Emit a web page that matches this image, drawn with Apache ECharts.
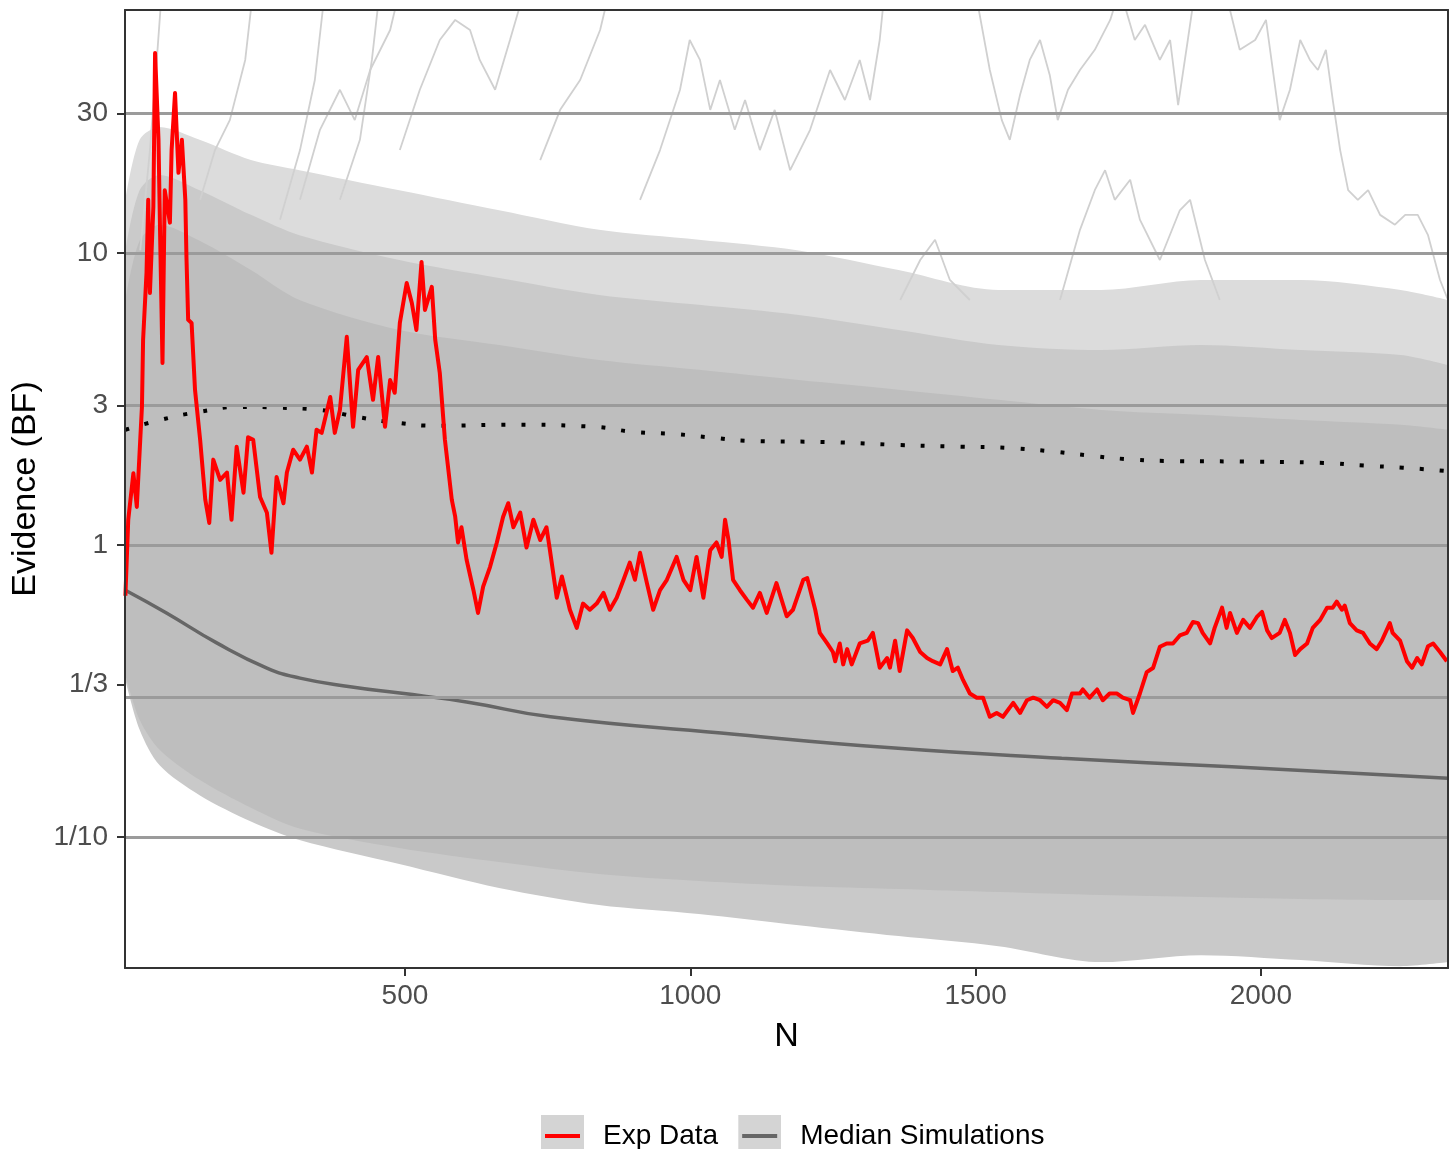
<!DOCTYPE html>
<html>
<head>
<meta charset="utf-8">
<script src="https://cdn.jsdelivr.net/npm/echarts@6/dist/echarts.min.js"></script>
<style>
html,body{margin:0;padding:0;background:#fff;}
#chart{width:1455px;height:1149px;}
</style>
</head>
<body>
<div id="chart"></div>
<script>
// ---------- data ----------
const X_MIN = 9.3, X_MAX = 2328;
const Y_MIN = 0.0356, Y_MAX = 67.9;
const xTickValues = [500, 1000, 1500, 2000];
const yTickValues = [0.1, 1/3, 1, 3, 10, 30];
const yTickLabels = ['1/10', '1/3', '1', '3', '10', '30'];
const gridValues = [0.1, 0.3, 1, 3, 10, 30];

// experimental data (N, BF)
const expData = [
[10,0.67],[15,1.22],[24,1.76],[30,1.35],[36,2.29],[39,2.97],[41,5.04],[47,8.54],[50,15.2],[53,7.29],
[59,14.4],[62,48.4],[68,24.4],[71,11.1],[75,4.20],[79,16.4],[88,12.7],[91,22.5],[97,35.3],[103,18.8],
[109,24.4],[115,15.2],[117,9.69],[120,5.90],[126,5.76],[132,3.40],[141,2.29],[150,1.43],[157,1.19],[164,1.96],
[176,1.67],[188,1.77],[196,1.22],[205,2.17],[217,1.51],[225,2.34],[234,2.29],[246,1.46],[258,1.29],[266,0.94],
[275,1.71],[287,1.39],[293,1.77],[304,2.12],[316,1.96],[328,2.17],[337,1.77],[345,2.48],[354,2.42],[369,3.21],
[377,2.42],[386,2.90],[398,5.16],[409,2.54],[418,3.98],[433,4.40],[444,3.14],[453,4.40],[465,2.54],[474,3.67],
[482,3.32],[491,5.76],[503,7.89],[512,6.74],[520,5.45],[529,9.31],[535,6.38],[547,7.65],[553,5.04],[561,3.88],
[570,2.29],[582,1.43],[588,1.25],[593,1.02],[599,1.15],[608,0.89],[620,0.70],[628,0.585],[637,0.72],[649,0.84],
[661,1.02],[672,1.25],[681,1.39],[690,1.15],[702,1.29],[713,0.98],[725,1.22],[737,1.04],[748,1.15],[754,0.96],
[766,0.66],[775,0.78],[789,0.60],[801,0.52],[812,0.63],[824,0.60],[836,0.63],[848,0.685],[859,0.60],[871,0.66],
[883,0.76],[894,0.87],[903,0.76],[912,0.94],[924,0.74],[935,0.60],[947,0.70],[959,0.76],[976,0.91],[988,0.76],
[1000,0.70],[1011,0.91],[1023,0.66],[1035,0.96],[1046,1.02],[1055,0.91],[1061,1.22],[1067,1.04],[1075,0.76],[1087,0.70],
[1099,0.65],[1110,0.61],[1122,0.685],[1134,0.585],[1151,0.74],[1169,0.57],[1180,0.60],[1198,0.76],[1205,0.77],[1219,0.60],
[1227,0.50],[1240,0.46],[1250,0.43],[1254,0.40],[1262,0.46],[1268,0.39],[1275,0.44],[1283,0.39],[1297,0.46],[1311,0.47],
[1320,0.50],[1332,0.38],[1345,0.41],[1350,0.38],[1359,0.47],[1367,0.37],[1380,0.51],[1390,0.48],[1403,0.43],[1415,0.41],
[1425,0.40],[1438,0.39],[1450,0.44],[1460,0.37],[1469,0.38],[1478,0.345],[1490,0.31],[1502,0.30],[1513,0.30],[1525,0.258],
[1537,0.266],[1548,0.258],[1566,0.288],[1578,0.266],[1590,0.294],[1601,0.30],[1613,0.294],[1625,0.279],[1636,0.294],[1648,0.288],
[1660,0.272],[1669,0.31],[1683,0.31],[1688,0.32],[1700,0.30],[1713,0.32],[1723,0.294],[1735,0.31],[1748,0.31],[1758,0.30],
[1771,0.294],[1776,0.266],[1788,0.31],[1800,0.367],[1811,0.379],[1823,0.448],[1835,0.46],[1846,0.46],[1858,0.49],[1870,0.50],
[1881,0.545],[1890,0.54],[1898,0.50],[1911,0.46],[1919,0.52],[1932,0.61],[1940,0.52],[1946,0.585],[1958,0.50],[1969,0.554],
[1981,0.52],[1993,0.567],[2002,0.59],[2011,0.51],[2019,0.48],[2033,0.50],[2042,0.554],[2051,0.50],[2060,0.42],[2069,0.44],
[2081,0.46],[2091,0.52],[2104,0.554],[2116,0.61],[2126,0.61],[2133,0.64],[2142,0.60],[2147,0.62],[2156,0.54],[2168,0.51],
[2179,0.50],[2191,0.46],[2203,0.44],[2212,0.47],[2226,0.54],[2231,0.50],[2244,0.47],[2256,0.40],[2265,0.38],[2274,0.41],
[2282,0.39],[2293,0.45],[2302,0.46],[2314,0.43],[2326,0.40]
];

// median of simulations
const medianData = [[10,0.70],[82,0.585],[170,0.462],[258,0.379],[316,0.350],[404,0.327],[491,0.311],
[608,0.290],[755,0.258],[1054,0.227],[1352,0.202],[1651,0.186],[1949,0.174],[2328,0.159]];

// dotted upper reference curve
const upperData = [[10,2.48],[71,2.68],[141,2.86],[211,2.97],[281,2.95],[351,2.90],[418,2.74],[486,2.62],
[556,2.56],[689,2.58],[830,2.54],[900,2.44],[970,2.40],[1040,2.33],[1105,2.27],[1245,2.25],[1367,2.20],
[1473,2.17],[1555,2.15],[1623,2.10],[1694,2.03],[1761,1.97],[1832,1.94],[1970,1.93],[2110,1.91],
[2181,1.87],[2249,1.84],[2328,1.79]];

// envelope of the simulation bundle
const bandN =          [10,35,70,140,230,315,490,665,840,1015,1190,1365,1540,1720,1895,2070,2245,2328];
const simSparseTop =   [15.2,24.4,27.0,24.4,20.8,19.2,16.4,14.0,12.0,11.1,10.2,8.74,7.47,7.47,8.08,8.08,7.47,6.90];
const simSemiTop =     [10.2,16.4,18.5,16.4,13.5,11.5,9.46,8.21,7.18,6.64,6.13,5.45,4.84,4.65,4.84,4.65,4.47,4.13];
const simDenseTop =    [6.90,11.0,12.5,11.0,8.74,6.90,5.45,4.84,4.30,3.98,3.67,3.40,3.14,2.90,2.79,2.68,2.58,2.48];
const simDenseBottom = [0.359,0.252,0.199,0.157,0.126,0.107,0.0917,0.0821,0.0747,0.0707,0.0680,0.0664,0.0648,0.0633,0.0623,0.0613,0.0608,0.0608];
const simOuterBottom = [0.345,0.233,0.176,0.139,0.113,0.0977,0.0808,0.0669,0.0585,0.0545,0.0499,0.0458,0.0423,0.0373,0.0394,0.0379,0.0361,0.0373];

// individual simulation runs that stick out above the bundle
const simOutliers = [
[[1499,80],[1525,42.3],[1546,28.5],[1560,24.4],[1578,34.8],[1595,45.8],[1613,53.6],[1630,40.7],[1644,28.5],[1662,36.2],[1683,42.3],[1709,49.6],[1736,62.8],[1753,80]],
[[1753,80],[1779,53.6],[1797,60.4],[1823,45.8],[1841,53.6],[1855,32.1],[1872,53.6],[1885,80]],
[[1937,80],[1963,49.6],[1990,53.6],[2009,62.8],[2033,28.5],[2051,36.2],[2069,53.6],[2086,45.8],[2100,42.3],[2114,49.6],[2126,33.4],[2139,22.5],[2153,16.4],[2170,15.2],[2188,16.4],[2209,13.5],[2235,12.5],[2253,13.5],[2275,13.5],[2293,11.5],[2314,8.08],[2328,6.9]],
[[912,15.2],[947,22.5],[982,36.2],[999,53.6],[1017,45.8],[1035,30.9],[1052,39.1],[1078,26.4],[1096,33.4],[1122,22.5],[1148,30.9],[1175,19.2],[1210,26.4],[1245,42.3],[1271,33.4],[1297,45.8],[1315,33.4],[1332,53.6],[1341,80]],
[[36,10.2],[53,22.5],[65,45.8],[74,80]],
[[141,15.2],[167,22.5],[193,28.5],[220,45.8],[234,80]],
[[281,13.0],[316,22.5],[342,39.1],[360,80]],
[[386,15.2],[421,24.4],[442,45.8],[456,80]],
[[491,22.5],[526,36.2],[561,53.6],[588,62.8],[614,58.0],[631,45.8],[658,36.2],[684,53.6],[710,80]],
[[737,20.8],[772,30.9],[807,39.1],[842,58.0],[859,80]],
[[316,15.2],[351,26.4],[386,36.2],[412,28.5],[439,42.3],[474,58.0],[491,80]],
[[1368,6.9],[1403,9.46],[1429,11.1],[1455,8.08],[1490,6.9]],
[[1648,6.9],[1683,12.0],[1709,16.4],[1727,19.2],[1744,15.2],[1771,17.8],[1788,13.0],[1823,9.46],[1858,14.0],[1876,15.2],[1902,9.46],[1928,6.9]]
];

// ---------- chart ----------
const FONT = '"Liberation Sans", Arial, sans-serif';
const zip = (xs, ys) => xs.map((x, i) => [x, ys[i]]);

function bandLayer(name, ys, color) {
  return {
    name: name, type: 'line', xAxisIndex: 0, yAxisIndex: 0, z: 1,
    data: zip(bandN, ys), showSymbol: false, symbol: 'none', silent: true, smooth: 0.3,
    lineStyle: { width: 0 }, areaStyle: { color: color, opacity: 1, origin: 'start' }
  };
}

function keyIcon(lineColor) {
  const svg = "<svg xmlns='http://www.w3.org/2000/svg' width='43' height='42'>" +
    "<rect width='43' height='42' fill='#d4d4d4'/>" +
    "<rect x='4' y='19' width='35' height='4' fill='" + lineColor + "'/></svg>";
  return 'image://data:image/svg+xml;charset=utf-8,' + encodeURIComponent(svg);
}

const series = [
  bandLayer('sparse', simSparseTop, '#dcdcdc'),
  bandLayer('semi', simSemiTop, '#cacaca'),
  bandLayer('dense', simDenseTop, '#bebebe'),
  bandLayer('denseLow', simDenseBottom, '#c9c9c9'),
  bandLayer('outerLow', simOuterBottom, '#ffffff')
];
simOutliers.forEach((run, i) => {
  series.push({
    name: 'run' + i, type: 'line', xAxisIndex: 0, yAxisIndex: 0, z: 2,
    data: run, showSymbol: false, symbol: 'none', silent: true,
    lineStyle: { color: '#d0d0d0', width: 1.8 }
  });
});
series.push({
  name: 'Median Simulations', type: 'line', xAxisIndex: 0, yAxisIndex: 0, z: 3,
  data: medianData, smooth: true, showSymbol: false, symbol: 'none',
  lineStyle: { color: '#666666', width: 3.5 }, itemStyle: { color: '#666666' }
});
series.push({
  name: 'upper', type: 'line', xAxisIndex: 0, yAxisIndex: 0, z: 3,
  data: upperData, smooth: true, showSymbol: false, symbol: 'none',
  lineStyle: { color: '#000000', width: 4, type: [4, 16], cap: 'butt' }
});
series.push({
  name: 'grid', type: 'line', xAxisIndex: 0, yAxisIndex: 0, z: 4, data: [],
  markLine: {
    silent: true, symbol: ['none', 'none'], animation: false,
    label: { show: false },
    lineStyle: { color: '#9b9b9b', width: 3, type: 'solid' },
    data: gridValues.map(v => ({ yAxis: v }))
  }
});
series.push({
  name: 'Exp Data', type: 'line', xAxisIndex: 0, yAxisIndex: 0, z: 5,
  data: expData, showSymbol: false, symbol: 'none',
  lineStyle: { color: '#ff0000', width: 4, join: 'round' }, itemStyle: { color: '#ff0000' }
});

const frameLine = { show: true, onZero: false, lineStyle: { color: '#333333', width: 2 } };
const tickStyle = { color: '#333333', width: 2 };

const option = {
  animation: false,
  backgroundColor: '#ffffff',
  textStyle: { fontFamily: FONT },
  grid: { left: 125, right: 7, top: 10, bottom: 181, containLabel: false },
  legend: {
    left: 536, top: 1110, orient: 'horizontal',
    itemWidth: 43, itemHeight: 42, itemGap: 20,
    selectedMode: false,
    textStyle: { fontSize: 28, color: '#000000', fontFamily: FONT, padding: [0, 0, 0, 14] },
    data: [
      { name: 'Exp Data', icon: keyIcon('#ff0000') },
      { name: 'Median Simulations', icon: keyIcon('#666666') }
    ]
  },
  xAxis: [
    {
      type: 'value', position: 'bottom', min: X_MIN, max: X_MAX, z: 10,
      axisLine: frameLine,
      axisTick: { show: true, customValues: xTickValues, length: 8, lineStyle: tickStyle },
      axisLabel: { customValues: xTickValues, fontSize: 28, color: '#4d4d4d', margin: 14, fontFamily: FONT,
        formatter: v => String(Math.round(v)) },
      splitLine: { show: false },
      name: 'N', nameLocation: 'middle', nameGap: 52,
      nameTextStyle: { fontSize: 34, color: '#000000', fontFamily: FONT }
    },
    {
      type: 'value', position: 'top', min: X_MIN, max: X_MAX, z: 10,
      axisLine: frameLine, axisTick: { show: false }, axisLabel: { show: false }, splitLine: { show: false }
    }
  ],
  yAxis: [
    {
      type: 'log', logBase: 10, position: 'left', min: Y_MIN, max: Y_MAX, z: 10,
      axisLine: frameLine, axisTick: { show: false }, axisLabel: { show: false }, splitLine: { show: false }
    },
    {
      type: 'value', position: 'left', min: Math.log10(Y_MIN), max: Math.log10(Y_MAX), z: 10,
      axisLine: { show: false, onZero: false },
      axisTick: { show: true, customValues: yTickValues.map(Math.log10), length: 8, lineStyle: tickStyle },
      axisLabel: {
        customValues: yTickValues.map(Math.log10), fontSize: 28, color: '#4d4d4d', margin: 17, fontFamily: FONT,
        formatter: function (v) {
          let best = 0, bd = Infinity;
          yTickValues.forEach((t, i) => { const d = Math.abs(Math.log10(t) - v); if (d < bd) { bd = d; best = i; } });
          return yTickLabels[best];
        }
      },
      splitLine: { show: false },
      name: 'Evidence (BF)', nameLocation: 'middle', nameGap: 82, nameRotate: 90,
      nameTextStyle: { fontSize: 34, color: '#000000', fontFamily: FONT }
    },
    {
      type: 'value', position: 'right', min: 0, max: 1, z: 10,
      axisLine: frameLine, axisTick: { show: false }, axisLabel: { show: false }, splitLine: { show: false }
    }
  ],
  series: series
};

const chart = echarts.init(document.getElementById('chart'), null, { renderer: 'canvas' });
chart.setOption(option);
</script>
</body>
</html>
